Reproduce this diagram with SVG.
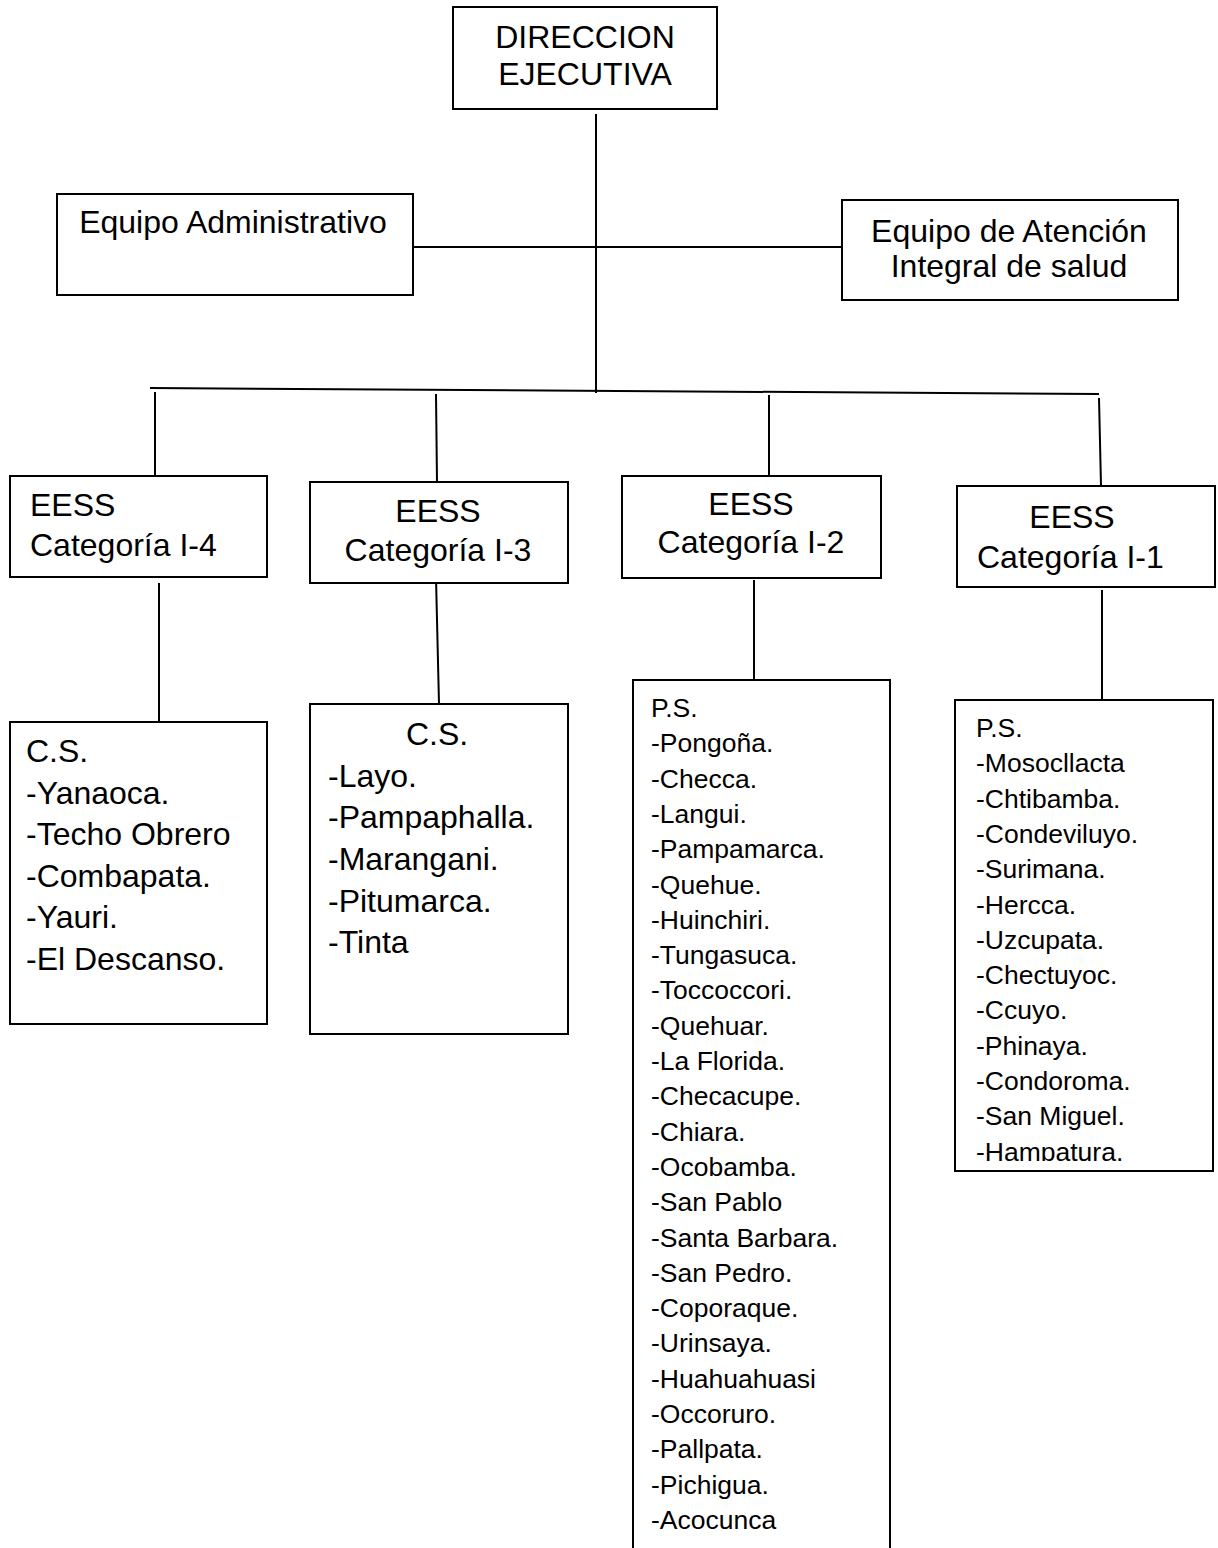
<svg xmlns="http://www.w3.org/2000/svg" width="1218" height="1548" viewBox="0 0 1218 1548">
<style>
.box{fill:#fff;stroke:#000;stroke-width:2}
.ln{stroke:#000;stroke-width:2;fill:none}
.t{font-family:"Liberation Sans",Arial,sans-serif;font-size:32px;fill:#000}
.s{font-family:"Liberation Sans",Arial,sans-serif;font-size:26.5px;fill:#000}
.m{text-anchor:middle}
</style>
<defs>
<clipPath id="clip1"><rect x="956" y="701" width="256" height="460"/></clipPath>
</defs>
<rect width="1218" height="1548" fill="#fff"/>
<g id="connectors">
<line class="ln" x1="596" y1="114" x2="596" y2="393"/>
<line class="ln" x1="414" y1="247" x2="842" y2="247"/>
<line class="ln" x1="150" y1="388" x2="1099" y2="394"/>
<line class="ln" x1="155" y1="392" x2="155" y2="476"/>
<line class="ln" x1="436" y1="394" x2="437" y2="482"/>
<line class="ln" x1="769" y1="395" x2="769" y2="476"/>
<line class="ln" x1="1099" y1="398" x2="1101" y2="486"/>
<line class="ln" x1="159" y1="583" x2="159" y2="722"/>
<line class="ln" x1="436" y1="578" x2="439" y2="704"/>
<line class="ln" x1="754" y1="580" x2="754" y2="680"/>
<line class="ln" x1="1102" y1="590" x2="1102" y2="700"/>
</g>
<g id="direccion">
<rect class="box" x="453" y="7" width="264" height="102"/>
<text class="t m" x="585" y="48">DIRECCION</text>
<text class="t m" x="585" y="85">EJECUTIVA</text>
</g>
<g id="admin">
<rect class="box" x="57" y="194" width="356" height="101"/>
<text class="t m" x="233" y="233">Equipo Administrativo</text>
</g>
<g id="atencion">
<rect class="box" x="842" y="200" width="336" height="100"/>
<text class="t m" x="1009" y="242">Equipo de Atención</text>
<text class="t m" x="1009" y="277">Integral de salud</text>
</g>
<g id="cat-i4">
<rect class="box" x="10" y="476" width="257" height="101"/>
<text class="t" x="30" y="516">EESS</text>
<text class="t" x="30" y="556">Categoría I-4</text>
</g>
<g id="cat-i3">
<rect class="box" x="310" y="482" width="258" height="101"/>
<text class="t m" x="438" y="522">EESS</text>
<text class="t m" x="438" y="561">Categoría I-3</text>
</g>
<g id="cat-i2">
<rect class="box" x="622" y="476" width="259" height="102"/>
<text class="t m" x="751" y="515">EESS</text>
<text class="t m" x="751" y="553">Categoría I-2</text>
</g>
<g id="cat-i1">
<rect class="box" x="957" y="486" width="258" height="101"/>
<text class="t m" x="1072" y="528">EESS</text>
<text class="t" x="977" y="568">Categoría I-1</text>
</g>
<g id="list-i4">
<rect class="box" x="10" y="722" width="257" height="302"/>
<text class="t" x="26" y="762">C.S.</text>
<text class="t" x="26" y="804">-Yanaoca.</text>
<text class="t" x="26" y="845">-Techo Obrero</text>
<text class="t" x="26" y="887">-Combapata.</text>
<text class="t" x="26" y="928">-Yauri.</text>
<text class="t" x="26" y="970">-El Descanso.</text>
</g>
<g id="list-i3">
<rect class="box" x="310" y="704" width="258" height="330"/>
<text class="t m" x="437" y="745">C.S.</text>
<text class="t" x="328" y="787">-Layo.</text>
<text class="t" x="328" y="828">-Pampaphalla.</text>
<text class="t" x="328" y="870">-Marangani.</text>
<text class="t" x="328" y="912">-Pitumarca.</text>
<text class="t" x="328" y="953">-Tinta</text>
</g>
<g id="list-i2">
<path class="ln" d="M633 1550 V680 H890 V1550"/>
<text class="s" x="651" y="717">P.S.</text>
<text class="s" x="651" y="752.3">-Pongoña.</text>
<text class="s" x="651" y="787.6">-Checca.</text>
<text class="s" x="651" y="822.9">-Langui.</text>
<text class="s" x="651" y="858.2">-Pampamarca.</text>
<text class="s" x="651" y="893.5">-Quehue.</text>
<text class="s" x="651" y="928.8">-Huinchiri.</text>
<text class="s" x="651" y="964.1">-Tungasuca.</text>
<text class="s" x="651" y="999.4">-Toccoccori.</text>
<text class="s" x="651" y="1034.7">-Quehuar.</text>
<text class="s" x="651" y="1070">-La Florida.</text>
<text class="s" x="651" y="1105.3">-Checacupe.</text>
<text class="s" x="651" y="1140.6">-Chiara.</text>
<text class="s" x="651" y="1175.9">-Ocobamba.</text>
<text class="s" x="651" y="1211.2">-San Pablo</text>
<text class="s" x="651" y="1246.5">-Santa Barbara.</text>
<text class="s" x="651" y="1281.8">-San Pedro.</text>
<text class="s" x="651" y="1317.1">-Coporaque.</text>
<text class="s" x="651" y="1352.4">-Urinsaya.</text>
<text class="s" x="651" y="1387.7">-Huahuahuasi</text>
<text class="s" x="651" y="1423">-Occoruro.</text>
<text class="s" x="651" y="1458.3">-Pallpata.</text>
<text class="s" x="651" y="1493.6">-Pichigua.</text>
<text class="s" x="651" y="1528.9">-Acocunca</text>
</g>
<g id="list-i1">
<rect class="box" x="955" y="700" width="258" height="471"/>
<g clip-path="url(#clip1)">
<text class="s" x="976" y="737">P.S.</text>
<text class="s" x="976" y="772.3">-Mosocllacta</text>
<text class="s" x="976" y="807.6">-Chtibamba.</text>
<text class="s" x="976" y="842.9">-Condeviluyo.</text>
<text class="s" x="976" y="878.2">-Surimana.</text>
<text class="s" x="976" y="913.5">-Hercca.</text>
<text class="s" x="976" y="948.8">-Uzcupata.</text>
<text class="s" x="976" y="984.1">-Chectuyoc.</text>
<text class="s" x="976" y="1019.4">-Ccuyo.</text>
<text class="s" x="976" y="1054.7">-Phinaya.</text>
<text class="s" x="976" y="1090">-Condoroma.</text>
<text class="s" x="976" y="1125.3">-San Miguel.</text>
<text class="s" x="976" y="1160.6">-Hampatura.</text>
</g>
</g>
</svg>
